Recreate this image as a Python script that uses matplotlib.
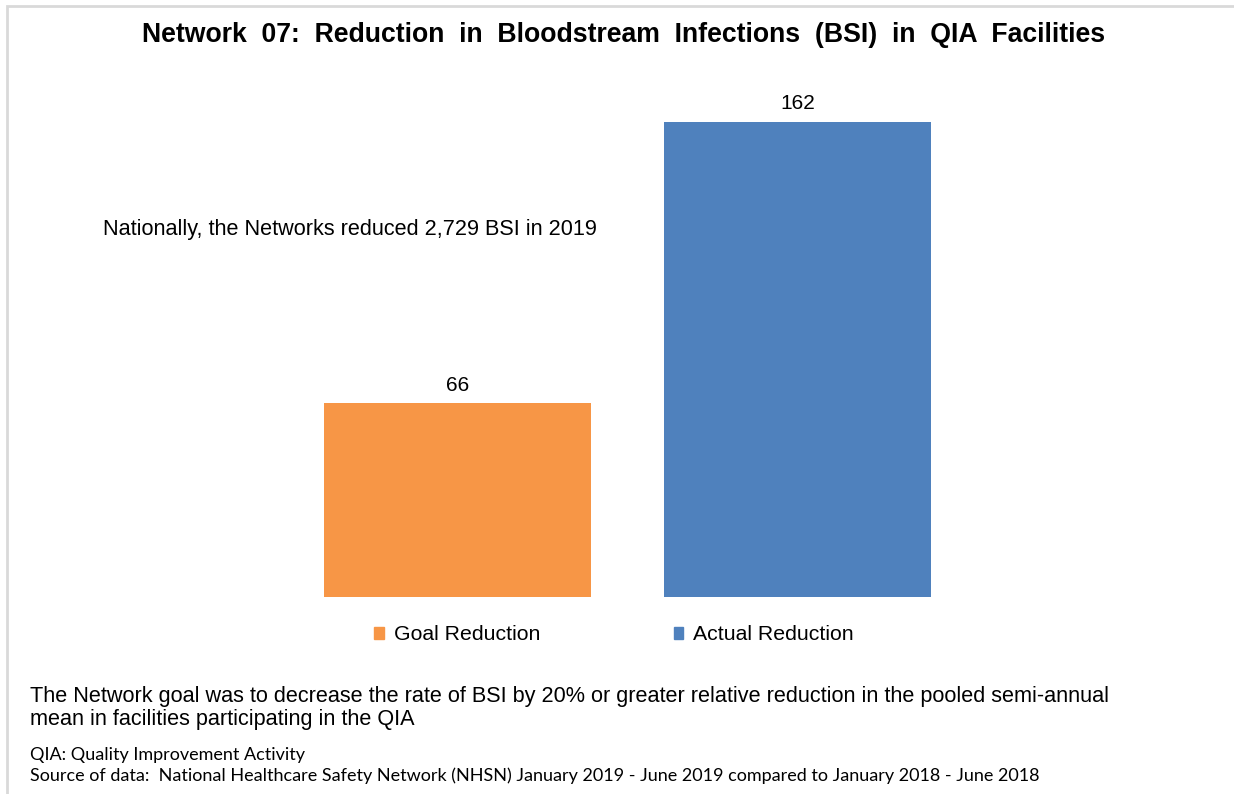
import matplotlib
matplotlib.use("Agg")
import matplotlib.pyplot as plt
from matplotlib.patches import Patch, Rectangle

W, H = 1234, 794

categories = ["Goal Reduction", "Actual Reduction"]
values = [66, 162]
colors = ["#F79646", "#4F81BD"]

title = "Network 07: Reduction in Bloodstream Infections (BSI) in QIA Facilities"
note = "Nationally, the Networks reduced 2,729 BSI in 2019"
goal_text = ("The Network goal was to decrease the rate of BSI by 20% or greater relative reduction in the pooled semi-annual\n"
             "mean in facilities participating in the QIA")
footnotes = ["QIA: Quality Improvement Activity",
             "Source of data:  National Healthcare Safety Network (NHSN) January 2019 - June 2019 compared to January 2018 - June 2018"]

plt.rcParams["font.family"] = ["Liberation Sans", "DejaVu Sans"]


def px(x, y):
    # pixel position -> figure fraction
    return x / W, 1 - y / H


fig = plt.figure(figsize=(W / 100, H / 100), dpi=100)

# light frame around the chart area
fig.patches.append(Rectangle(px(7, 900), (W + 50) / W, (900 - 6) / H,
                             transform=fig.transFigure, fill=False,
                             edgecolor="#D9D9D9", linewidth=2))

# axes: bars centred at x=0 and 1, baseline at 597px
left, right = 287.5, 967.5
top, bottom = 69, 597
ax = fig.add_axes([left / W, 1 - bottom / H, (right - left) / W, (bottom - top) / H])
ax.bar(range(len(values)), values, width=0.785, color=colors)
ax.set_xlim(-0.5, 1.5)
ax.set_ylim(0, 180)
ax.axis("off")

for i, v in enumerate(values):
    ax.annotate(str(v), (i, v), xytext=(0, 13), textcoords="offset points",
                ha="center", va="center", fontsize=15, color="#000000")

handles = [Patch(color=c, label=l) for c, l in zip(colors, categories)]
fig.legend(handles=handles, loc="center", bbox_to_anchor=px(614, 635), ncol=2,
           frameon=False, fontsize=15.3, handlelength=0.45, handleheight=0.45,
           handletextpad=0.45, columnspacing=6.3)

# the original title is set with wide word spacing
fig.text(*px(624, 35), title.replace(" ", "  "), ha="center", va="center",
         fontsize=19.2, fontweight="bold")
fig.text(*px(103, 229), note, ha="left", va="center", fontsize=15.6)
fig.text(*px(30, 708), goal_text, ha="left", va="center", fontsize=15.6,
         linespacing=1.12)
fig.text(*px(30, 755), footnotes[0], ha="left", va="center", fontsize=13,
         family=["Lato", "DejaVu Sans"])
fig.text(*px(30, 776), footnotes[1], ha="left", va="center", fontsize=13,
         family=["Lato", "DejaVu Sans"])

fig.savefig("out.png", dpi=100)
